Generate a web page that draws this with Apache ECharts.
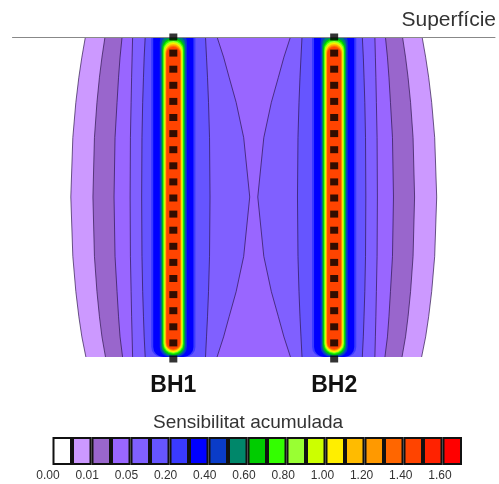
<!DOCTYPE html>
<html>
<head>
<meta charset="utf-8">
<script src="https://cdn.jsdelivr.net/npm/echarts@6/dist/echarts.min.js"></script>
<style>
  html, body { margin: 0; padding: 0; background: #fff; }
  #chart { width: 499px; height: 484px; }
</style>
</head>
<body>
<div id="chart"></div>
<script>
var myChart = echarts.init(document.getElementById('chart'));

// boreholes (horizontal position, m) and names
var boreholes = [-8, 8];
var boreholeNames = ['BH1', 'BH2'];
// electrode depths along each borehole (m)
var electrodeDepths = [0, 1.6, 3.2, 4.8, 6.4, 8, 9.6, 11.2, 12.8, 14.4, 16,
                       17.6, 19.2, 20.8, 22.4, 24, 25.6, 27.2, 28.8, 30.4, 32];

// depths where contour positions were read
var contourDepths = [0, 2, 4, 6.5, 10, 15.9, 21.8, 25.3, 27.8, 29.8, 31.8];
// distance of each contour from its borehole (m), outer side / side towards the other borehole
var edgeOffsets   = [8.75, 9.1, 9.4, 9.7, 10.0, 10.2, 10.0, 9.7, 9.4, 9.1, 8.7];
var level3Offsets = [6.8, 7.1, 7.35, 7.6, 7.85, 8.0, 7.85, 7.6, 7.35, 7.1, 6.75];
var level4Offsets = [5.1, 5.3, 5.45, 5.6, 5.8, 5.9, 5.8, 5.6, 5.45, 5.3, 5.05];
var level5Outer   = [4.05, 4.1, 4.15, 4.2, 4.27, 4.3, 4.27, 4.2, 4.15, 4.1, 4.05];
var level5Inner   = [4.35, 5.0, 5.55, 6.25, 7.0, 7.6, 7.0, 6.25, 5.55, 5.0, 4.35];
var level6Outer   = [2.8, 2.9, 2.97, 3.05, 3.12, 3.15, 3.12, 3.05, 2.97, 2.9, 2.8];
var level6Inner   = [3.2, 3.3, 3.4, 3.5, 3.6, 3.65, 3.6, 3.5, 3.4, 3.3, 3.2];

// high sensitivity zone around the electrodes: half width, top and bottom depth (m)
var tubeHalfWidths = [2.2, 2.0, 1.35, 1.2, 1.1, 1.02, 0.96, 0.9, 0.85, 0.8, 0.76, 0.72, 0.68];
var tubeTops       = [-2, -2, -0.5, -0.2, 0.1, 0.25, 0.4, 0.5, 0.6, 0.7, 0.8, 0.9, 1.0];
var tubeBottoms    = [31.8, 31.8, 31.8, 31.7, 31.6, 31.5, 31.4, 31.35, 31.3, 31.2, 31.15, 31.1, 31.0];

// colour scale
var legendLabels = ['0.00', '0.01', '0.05', '0.20', '0.40', '0.60', '0.80', '1.00', '1.20', '1.40', '1.60'];
var legendColors = ['#ffffff', '#cc99ff', '#9966cc', '#9966ff', '#8060ff', '#6655ff', '#3a3aff',
                    '#0000ff', '#0a3cc8', '#00876a', '#00cc00', '#33ff00', '#99ff33', '#ccff00',
                    '#ffee00', '#ffbb00', '#ff9900', '#ff6600', '#ff4400', '#ff2200', '#ff0000'];

var bands = [
    { outer: edgeOffsets, inner: null, color: legendColors[1] },
    { outer: level3Offsets, inner: null, color: legendColors[2] },
    { outer: level4Offsets, inner: null, color: legendColors[3] },
    { outer: level5Outer, inner: level5Inner, color: legendColors[4] },
    { outer: level6Outer, inner: level6Inner, color: legendColors[5] }
];
var tubeColors = legendColors.slice(6, 19);

var lineStyle = { stroke: 'rgba(40,20,70,0.75)', lineWidth: 0.9, fill: null };

function renderBand(params, api) {
    var b = bands[params.dataIndex];
    var children = [];
    if (!b.inner) {
        var left = contourDepths.map(function (d, i) { return api.coord([boreholes[0] - b.outer[i], d]); });
        var right = contourDepths.map(function (d, i) { return api.coord([boreholes[1] + b.outer[i], d]); });
        children.push({ type: 'polygon', shape: { points: left.concat(right.slice().reverse()) },
                        style: { fill: b.color } });
        children.push({ type: 'polyline', shape: { points: left }, style: lineStyle });
        children.push({ type: 'polyline', shape: { points: right }, style: lineStyle });
    } else {
        boreholes.forEach(function (c, k) {
            var s = k === 0 ? -1 : 1;
            var outer = contourDepths.map(function (d, i) { return api.coord([c + s * b.outer[i], d]); });
            var inner = contourDepths.map(function (d, i) { return api.coord([c - s * b.inner[i], d]); });
            children.push({ type: 'polygon', shape: { points: outer.concat(inner.slice().reverse()) },
                            style: { fill: b.color } });
            children.push({ type: 'polyline', shape: { points: outer }, style: lineStyle });
            children.push({ type: 'polyline', shape: { points: inner }, style: lineStyle });
        });
    }
    return { type: 'group', children: children };
}

function renderTube(params, api) {
    var i = params.dataIndex;
    var children = [];
    boreholes.forEach(function (c) {
        var p1 = api.coord([c - tubeHalfWidths[i], tubeTops[i]]);
        var p2 = api.coord([c + tubeHalfWidths[i], tubeBottoms[i]]);
        var w = p2[0] - p1[0], h = p2[1] - p1[1];
        children.push({ type: 'rect', shape: { x: p1[0], y: p1[1], width: w, height: h, r: Math.min(w / 2, 10) },
                        style: { fill: tubeColors[i] } });
    });
    return { type: 'group', children: children };
}

var electrodes = [];
boreholes.forEach(function (c) {
    electrodeDepths.forEach(function (d) { electrodes.push([c, d]); });
});

var font = '"Liberation Sans", Arial, sans-serif';

myChart.setOption({
    animation: false,
    title: [
        { text: 'Superfície', right: 3, top: 10, padding: 0,
          textStyle: { fontSize: 21, fontWeight: 'normal', color: '#333', fontFamily: font } },
        { text: 'Sensibilitat acumulada', left: 153, top: 413, padding: 0,
          textStyle: { fontSize: 19, fontWeight: 'normal', color: '#333', fontFamily: font } }
    ],
    grid: [
        { left: 12.5, width: 482.5, top: 37, height: 322 },
        { left: 52.5, width: 409.5, top: 437, height: 28 },
        { left: 28.4, width: 431.2, top: 465, height: 1 }
    ],
    xAxis: [
        { gridIndex: 0, type: 'value', min: -24, max: 24, position: 'bottom',
          axisLine: { show: false }, axisTick: { show: false }, splitLine: { show: false },
          axisLabel: { customValues: boreholes, margin: 15, fontSize: 23, fontWeight: 'bold',
                       color: '#111', fontFamily: font,
                       formatter: function (v) { return boreholeNames[boreholes.indexOf(v)]; } } },
        { gridIndex: 0, type: 'value', min: -24, max: 24, position: 'top', z: 10,
          axisLine: { show: true, lineStyle: { color: '#888', width: 1 } },
          axisTick: { show: false }, axisLabel: { show: false }, splitLine: { show: false } },
        { gridIndex: 1, type: 'category', data: legendColors.map(function (c, i) { return i; }),
          show: false },
        { gridIndex: 2, type: 'category', data: legendLabels, boundaryGap: true,
          axisLine: { show: false }, axisTick: { show: false },
          axisLabel: { margin: 4, fontSize: 12, color: '#333', fontFamily: font, interval: 0 } }
    ],
    yAxis: [
        { gridIndex: 0, type: 'value', min: 0, max: 32, inverse: true, show: false },
        { gridIndex: 1, type: 'value', min: 0, max: 1, show: false },
        { gridIndex: 2, type: 'value', min: 0, max: 1, show: false }
    ],
    series: [
        { type: 'custom', xAxisIndex: 0, yAxisIndex: 0, clip: true,
          data: bands.map(function (b, i) { return [i]; }), renderItem: renderBand },
        { type: 'custom', xAxisIndex: 0, yAxisIndex: 0, clip: true,
          data: tubeHalfWidths.map(function (w, i) { return [i]; }), renderItem: renderTube },
        { type: 'scatter', xAxisIndex: 0, yAxisIndex: 0, z: 11, clip: false,
          symbol: 'rect', symbolSize: [8, 7], itemStyle: { color: '#000' },
          data: electrodes },
        { type: 'bar', xAxisIndex: 2, yAxisIndex: 1, barWidth: '100%',
          itemStyle: { borderColor: '#111', borderWidth: 2 },
          data: legendColors.map(function (c) { return { value: 1, itemStyle: { color: c } }; }) }
    ]
});
</script>
</body>
</html>
